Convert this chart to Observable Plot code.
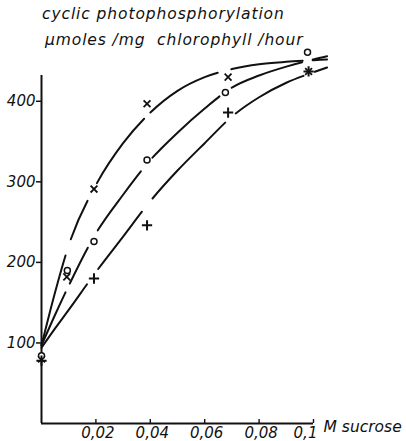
<!DOCTYPE html>
<html><head><meta charset="utf-8">
<script src="https://cdn.jsdelivr.net/npm/d3@7"></script>
<script src="https://cdn.jsdelivr.net/npm/@observablehq/plot@0.6"></script>
<style>
html,body{margin:0;padding:0;background:#fff;}
#wrap{position:relative;width:406px;height:441px;overflow:hidden;}
#wrap svg{position:absolute;left:0;top:0;overflow:visible;}
.t{position:absolute;font-family:"DejaVu Sans";font-style:italic;font-size:15.5px;letter-spacing:0.9px;white-space:pre;color:#111;line-height:18px;}
</style></head><body>
<div id="wrap">
<div class="t" style="left:42px;top:5px;">cyclic photophosphorylation</div>
<div class="t" style="left:45px;top:31px;">μmoles /mg  chlorophyll /hour</div>
</div>
<script>
// axis ticks
const xTicks = [0.02, 0.04, 0.06, 0.08, 0.1];
const xTickLabels = ["0,02", "0,04", "0,06", "0,08", "0,1"];
const yTicks = [100, 200, 300, 400];
const xAxisTitle = "M sucrose";

// measured points (three series)
const crossX = [0, 0.0093, 0.0193, 0.0388, 0.0686, 0.0982];
const crossY = [80, 182, 291, 397, 430, 437];
const circleX = [0, 0.0095, 0.0193, 0.0388, 0.0676, 0.0978];
const circleY = [84, 190, 226, 327, 411, 461];
const plusX = [0, 0.0193, 0.0388, 0.0686, 0.0982];
const plusY = [78, 180, 246, 386, 437];

// hand-drawn fitted curves
const curveX = [0, 0.005, 0.01, 0.02, 0.03, 0.04, 0.05, 0.06, 0.07, 0.08, 0.09, 0.1, 0.105];
const curveTopY = [97, 163, 221, 296, 348, 386, 413, 430, 440, 446, 449, 451, 452];
const curveMidY = [97, 135, 171, 236, 284, 327, 361, 391, 417, 432, 443, 452, 456];
const curveLowY = [94, 118, 141, 188, 232, 276, 314, 348, 381, 405, 423, 436, 442];

const toRows = (xs, ys) => xs.map((x, i) => ({x, y: ys[i]}));
const crossRows = toRows(crossX, crossY);
const circleRows = toRows(circleX, circleY);
const plusRows = toRows(plusX, plusY);
const topCurve = toRows(curveX, curveTopY);
const midCurve = toRows(curveX, curveMidY);
const lowCurve = toRows(curveX, curveLowY);
const labelOf = new Map(xTicks.map((t, i) => [t, xTickLabels[i]]));
const lastTick = xTicks[xTicks.length - 1];

const ink = "#111";
const chart = Plot.plot({
  width: 406, height: 441,
  marginLeft: 41, marginRight: 93, marginTop: 75, marginBottom: 18,
  x: {domain: [0, 0.1]},
  y: {domain: [0, 432]},
  style: {fontFamily: "DejaVu Sans", fontStyle: "italic", color: ink, background: "transparent"},
  marks: [
    Plot.ruleX([0], {stroke: ink, strokeWidth: 2}),
    Plot.ruleY([0], {stroke: ink, strokeWidth: 2}),
    Plot.ruleX(xTicks, {y1: 0, y2: 5, stroke: ink, strokeWidth: 1.4}),
    Plot.axisY(yTicks, {tickSize: 5, tickPadding: 1, fontSize: 15, tickFormat: d => String(d), label: null, stroke: ink, strokeWidth: 1.5}),
    Plot.axisX(xTicks.slice(0, -1), {tickSize: 0, tickPadding: 4, fontSize: 15, dx: 2, tickFormat: d => labelOf.get(d), label: null}),
    Plot.axisX([lastTick], {tickSize: 0, tickPadding: 4, fontSize: 15, dx: -8, tickFormat: d => labelOf.get(d), label: null}),
    Plot.text([xAxisTitle], {frameAnchor: "bottom-right", dx: 10, dy: 8, textAnchor: "start", fontSize: 15.5, fill: ink}),
    Plot.line(topCurve, {x: "x", y: "y", curve: "monotone-x", stroke: ink, strokeWidth: 2, strokeDasharray: "93,17,42,20,80,9,79,14,72,10,15,300"}),
    Plot.line(midCurve, {x: "x", y: "y", curve: "monotone-x", stroke: ink, strokeWidth: 2, strokeDasharray: "58,10,40,20,73,18,91,15,75,11,15,300"}),
    Plot.line(lowCurve, {x: "x", y: "y", curve: "monotone-x", stroke: ink, strokeWidth: 2, strokeDasharray: "78,19,72,17,105,14,78,12,13,300"}),
    Plot.dot(crossRows, {x: "x", y: "y", symbol: "times", r: 3.2, stroke: ink, strokeWidth: 1.8}),
    Plot.dot(circleRows, {x: "x", y: "y", symbol: "circle", r: 3, stroke: ink, strokeWidth: 1.5, fill: "white"}),
    Plot.dot(plusRows, {x: "x", y: "y", symbol: "plus", r: 3.4, stroke: ink, strokeWidth: 2})
  ]
});
document.getElementById("wrap").appendChild(chart);
</script>
</body></html>
